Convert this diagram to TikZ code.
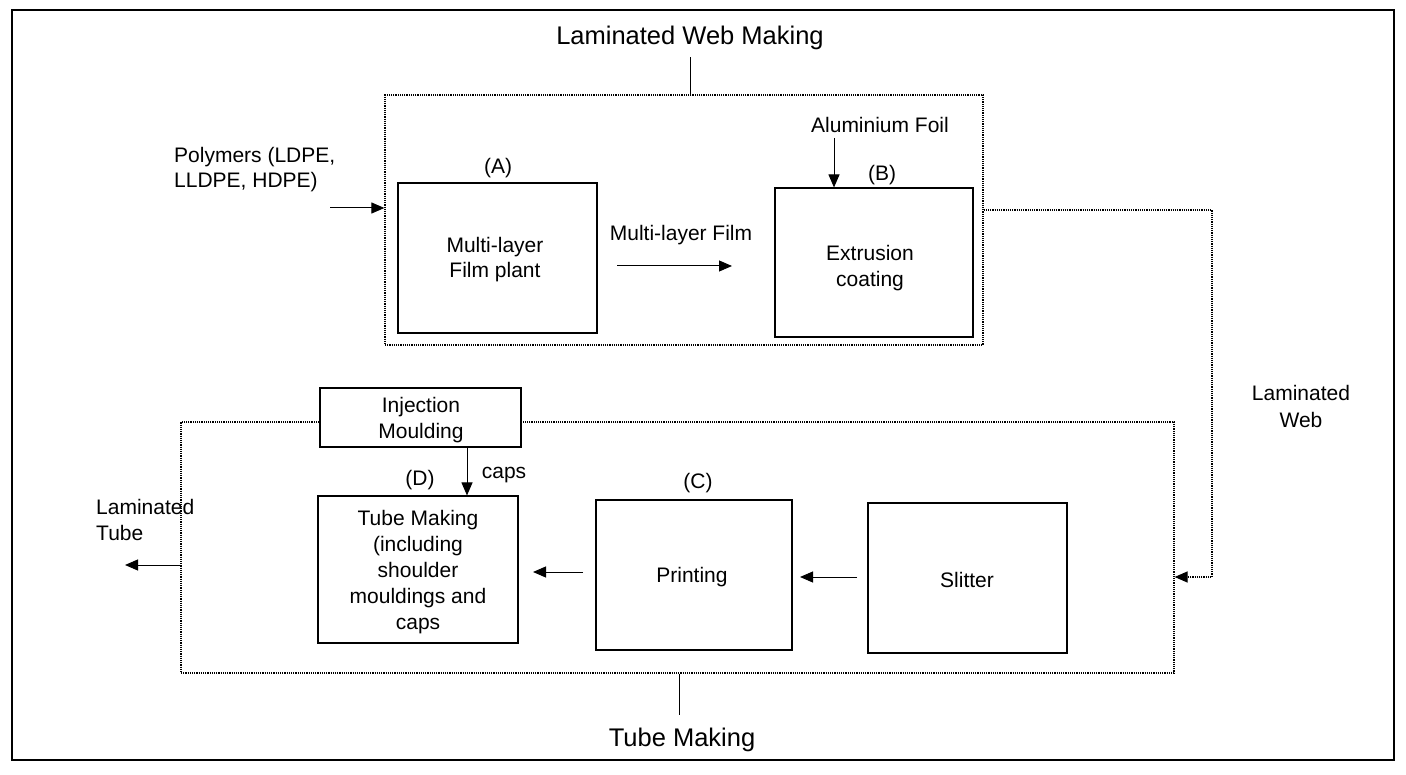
\documentclass[tikz,border=0pt]{standalone}
\usepackage{fontspec}
\setmainfont{Liberation Sans}
\usetikzlibrary{arrows.meta}
\begin{document}
\begin{tikzpicture}[x=1pt,y=-1pt,
 box/.style={draw, line width=1.1pt, inner sep=0pt},
 grp/.style={draw, densely dotted, line width=1.2pt, inner sep=0pt},
 lbl/.style={font=\fontsize{21}{25.5}\selectfont, align=center, inner sep=0pt},
 ttl/.style={font=\fontsize{25.5}{30}\selectfont, inner sep=0pt},
 arr/.style={line width=1pt, -{Triangle[length=13pt,width=11pt]}},
 darr/.style={line width=1.2pt, densely dotted, -{Triangle[length=13pt,width=11pt]}},
]
\useasboundingbox (0,0) rectangle (1406,775);
\draw[line width=1.3pt] (12,10) rectangle (1394,760);

% groups
\node[grp, minimum width=598pt, minimum height=250pt] (lwm) at (684,220) {};
\node[grp, minimum width=993pt, minimum height=251pt] (tm) at (677.5,547.5) {};

% titles
\node[ttl] (lwmt) at (690,38) {Laminated Web Making};
\coordinate (lwmtick) at (690,57);
\draw[line width=1pt] (lwm.north -| lwmtick) -- (lwmtick);
\node[ttl] (tmt) at (682,740) {Tube Making};
\coordinate (tmtick) at (679,715);
\draw[line width=1pt] (tm.south -| tmtick) -- (tmtick);

% boxes
\node[box, minimum width=199pt, minimum height=150pt] (A) at (497.5,258) {};
\node[box, minimum width=198pt, minimum height=149pt] (B) at (874,262.5) {};
\node[box, minimum width=200pt, minimum height=147pt] (D) at (418,569.5) {};
\node[box, minimum width=196pt, minimum height=150pt] (C) at (694,575) {};
\node[box, minimum width=199pt, minimum height=150pt] (S) at (967.5,578) {};
\node[box, fill=white, minimum width=201pt, minimum height=59pt] (inj) at (420.5,417.5) {};

% texts in boxes
\node[lbl] (At) at (495,259.5) {Multi-layer\\Film plant};
\node[lbl] (Bt) at (870,268) {Extrusion\\coating};
\node[lbl, font=\fontsize{21}{26.2}\selectfont] (Dt) at (418,572) {Tube Making\\(including\\shoulder\\mouldings and\\caps};
\node[lbl] (Ct) at (692,577) {Printing};
\node[lbl] (St) at (967,580) {Slitter};
\node[lbl, font=\fontsize{21}{26}\selectfont] (injt) at (421,420) {Injection\\Moulding};

% letters
\node[lbl] (Al) at (498,168) {(A)};
\node[lbl] (Bl) at (882,175) {(B)};
\node[lbl] (Dl) at (420,480) {(D)};
\node[lbl] (Cl) at (698,483) {(C)};
\node[lbl] (capsl) at (504,475) {caps};

% outside labels
\node[lbl, anchor=west, align=left] (poly) at (174,169.5) {Polymers (LDPE,\\LLDPE, HDPE)};
\node[lbl] (mlf) at (681,235) {Multi-layer Film};
\node[lbl] (alu) at (880,125) {Aluminium Foil};
\node[lbl, font=\fontsize{21}{27}\selectfont] (lweb) at (1301,406) {Laminated\\Web};
\node[lbl, anchor=west, align=left, font=\fontsize{21}{26}\selectfont] (ltube) at (96,520) {Laminated\\Tube};

% connectors
\coordinate (polys) at (330,208);
\draw[arr] (polys) -- (lwm.west |- polys);
\coordinate (mlfs) at (617,266);
\coordinate (mlfe) at (732,266);
\draw[arr] (mlfs) -- (mlfe);
\coordinate (alus) at (834,138);
\draw[arr] (alus) -- (B.north -| alus);
\coordinate (capx) at (467,0);
\draw[arr] (inj.south -| capx) -- (D.north -| capx);
\coordinate (scs) at (857,577);
\coordinate (sce) at (800,577);
\draw[arr] (scs) -- (sce);
\coordinate (cds) at (583,572);
\coordinate (cde) at (533,572);
\draw[arr] (cds) -- (cde);
\coordinate (lty) at (0,565);
\coordinate (lte) at (125,565);
\draw[arr] (tm.west |- lty) -- (lte);
\coordinate (lw1) at (1212,210);
\coordinate (lw2) at (1212,577);
\draw[darr] (lwm.east |- lw1) -- (lw1) -- (lw2) -- (tm.east |- lw2);
\end{tikzpicture}
\end{document}
